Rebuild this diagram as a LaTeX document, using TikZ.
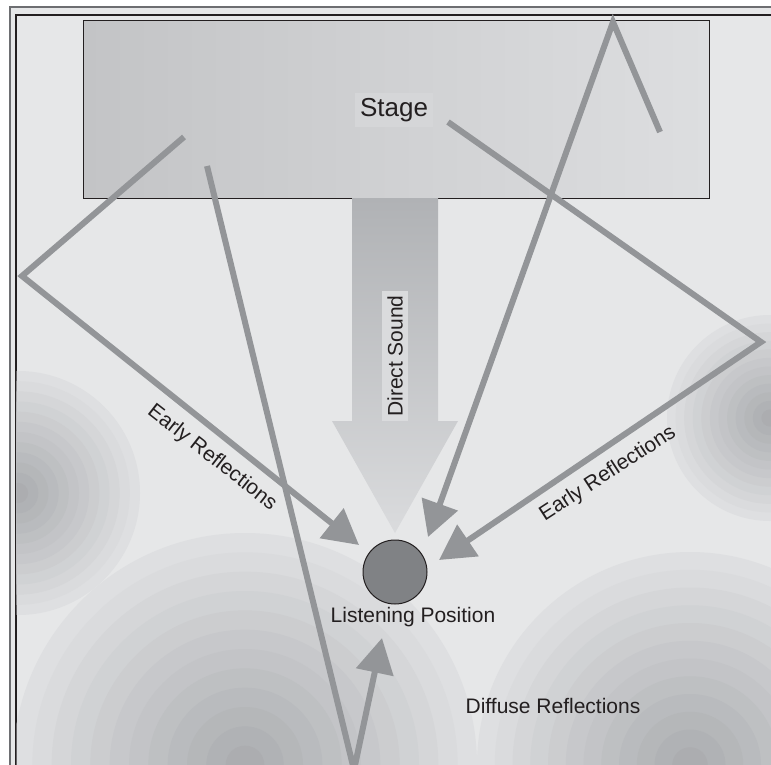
\documentclass[tikz,border=0pt]{standalone}
\usepackage{fontspec}
\setmainfont{Liberation Sans}
\usetikzlibrary{arrows.meta}
\definecolor{roomgray}{HTML}{E6E7E8}
\definecolor{framegray}{HTML}{6D6E71}
\definecolor{inkgray}{HTML}{231F20}
\definecolor{raygray}{HTML}{939598}
\definecolor{ringlight}{HTML}{DEDFE1}
\definecolor{ringdark}{HTML}{ABADB0}
\definecolor{stageleft}{HTML}{C3C4C6}
\definecolor{stageright}{HTML}{DDDEE0}
\definecolor{dstop}{HTML}{B0B2B5}
\definecolor{dsbottom}{HTML}{DADBDD}
\definecolor{lpgray}{HTML}{808285}
\tikzset{
  ray/.style={draw=raygray,line width=6pt,line join=miter},
  raytip/.style={ray,-{Triangle[length=35pt,width=37pt]}},
  lbl/.style={text=inkgray,font=\fontsize{21}{25}\selectfont,inner sep=2pt},
}
\newcommand{\soundrings}[3]{%
  \foreach \k in {1,...,12}{
    \pgfmathsetmacro\rr{#3*(13-\k)/12}
    \pgfmathtruncatemacro\pc{(\k-1)*9}
    \fill[ringdark!\pc!ringlight] (#1,#2) circle (\rr);
  }}
\begin{document}
\begin{tikzpicture}[x=1pt,y=-1pt]
	\clip (0,0) rectangle (771,765);
	\fill[white] (0,0) rectangle (771,765);
	\draw[fill=roomgray,draw=framegray,line width=1.5pt] (10,7) rectangle (800,800);
	\draw[draw=inkgray,line width=1.2pt] (16,15) rectangle (800,800);
	\begin{scope}
		\clip (16.7,15.7) rectangle (800,800);
		\soundrings{18}{493}{122}
		\soundrings{770}{418}{103}
		\soundrings{690}{765}{213}
		\soundrings{245}{765}{232}
	\end{scope}
	\node[draw=inkgray,line width=1pt,left color=stageleft,right color=stageright,
		minimum width=626pt,minimum height=177pt,inner sep=0pt] (stage) at (396,109.5) {};
	\node[lbl,fill=stageright!70!stageleft,font=\fontsize{26}{30}\selectfont,inner sep=5pt] (stagelbl) at (394,110) {Stage};
	\shade[top color=dstop,bottom color=dsbottom] (352,198) -- (438,198) -- (438,421) -- (458,421)
		-- (395,533) -- (332,421) -- (352,421) -- cycle;
	\node[lbl,fill=dsbottom,rotate=90,inner xsep=4.5pt,inner ysep=5pt] (direct) at (395,356) {Direct Sound};
	\coordinate (s1) at (184,137);
	\coordinate (w1) at (22,276);
	\coordinate (t1) at (359,545);
	\coordinate (s2) at (207,166);
	\coordinate (f2) at (354,770);
	\coordinate (t2) at (382,638);
	\coordinate (s3) at (448,122);
	\coordinate (w3) at (761,342);
	\coordinate (t3) at (439,560);
	\coordinate (s4) at (660,132);
	\coordinate (c4) at (613,22);
	\coordinate (t4) at (428,537);
	\draw[raytip] (s1) -- (w1) -- (t1);
	\draw[raytip] (s2) -- (f2) -- (t2);
	\draw[raytip] (s3) -- (w3) -- (t3);
	\draw[raytip] (s4) -- (c4) -- (t4);
	\node[circle,fill=lpgray,draw=inkgray,line width=1pt,minimum size=64pt,inner sep=0pt] (lp) at (395,572) {};
	\node[lbl] (lplbl) at (413,617) {Listening Position};
	\node[lbl,rotate=-38] (early1) at (212,458) {Early Reflections};
	\node[lbl,rotate=33] (early2) at (608,474) {Early Reflections};
	\node[lbl] (diffuse) at (553,706) {Diffuse Reflections};
\end{tikzpicture}
\end{document}
